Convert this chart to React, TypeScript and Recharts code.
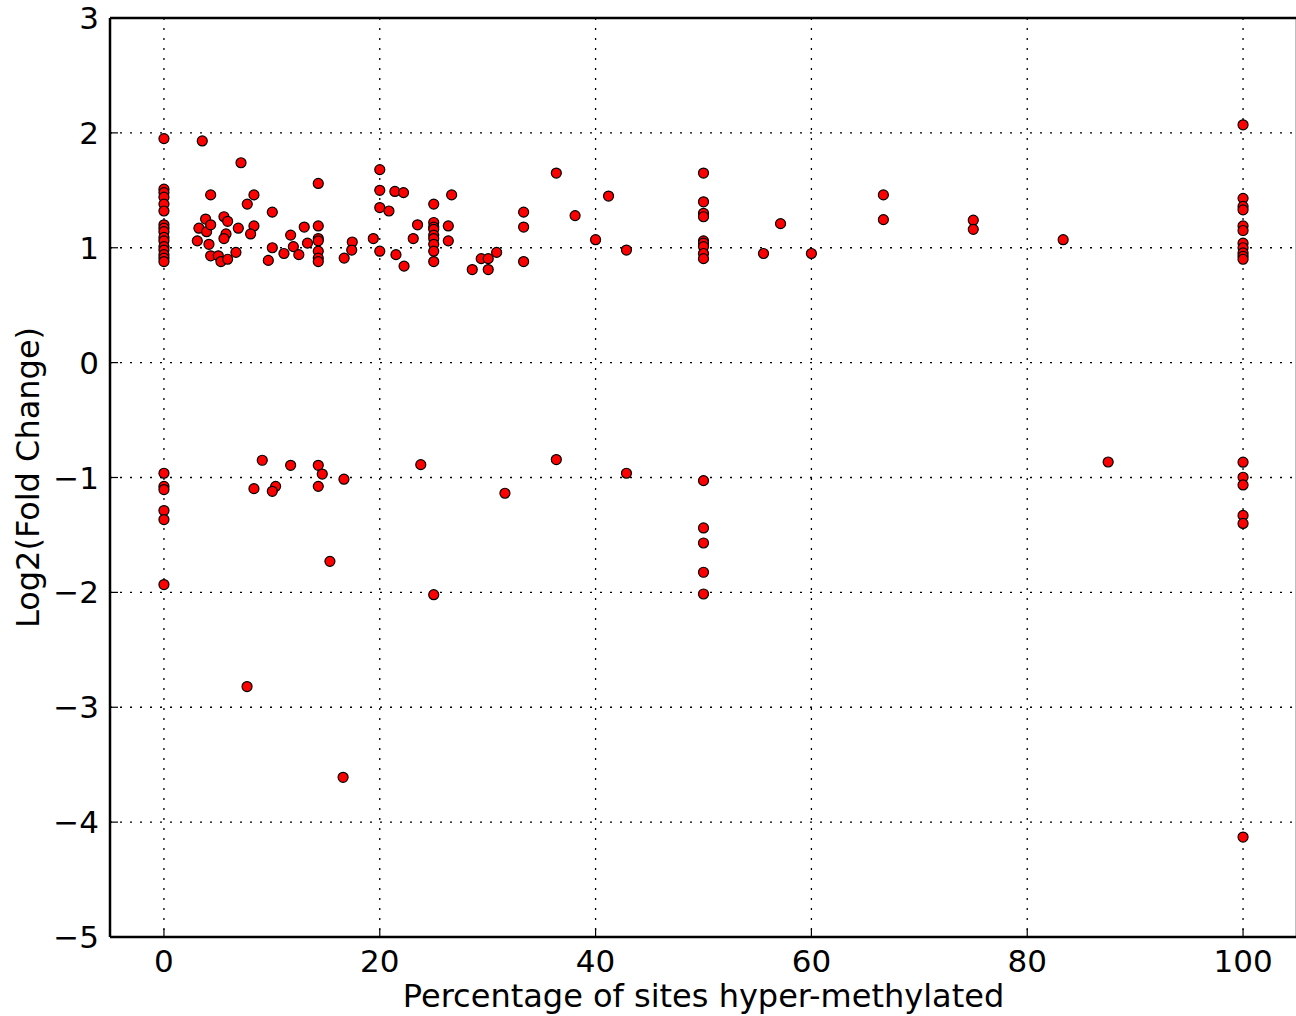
import React from 'react';
import {
  ScatterChart,
  Scatter,
  XAxis,
  YAxis,
  CartesianGrid,
} from 'recharts';

// up-regulated genes: % of sites hyper-methylated vs log2 fold change
const upPct = [
  0, 0, 0, 0, 0, 0, 0, 0, 0, 0, 0, 0, 0, 0, 0, 0,
  3.55, 7.14, 4.33, 8.34, 7.72, 10.04, 14.3, 3.86, 3.24, 3.95, 4.33, 3.09, 4.17, 5.56, 5.9, 5.75,
  5.56, 6.89, 8.34, 8.03, 4.33, 5.04, 5.28, 5.9, 6.67, 9.67, 10.04, 11.12, 11.74, 11.99, 12.5, 13.0, 13.3,
  14.3, 14.3, 14.3, 14.3, 14.3, 14.3,
  16.7, 17.45, 17.4,
  20, 20, 20, 20, 21.4, 22.2, 20.85, 19.4, 21.5, 22.25, 23.5, 23.1,
  25, 25, 25, 25, 25, 25, 25, 25, 25,
  26.35, 26.35, 26.66, 28.57, 29.4, 30.05, 30.05, 30.83,
  33.33, 33.33, 33.33, 36.36, 38.1, 40, 41.2, 42.86,
  50, 50, 50, 50, 50, 50, 50, 50, 50,
  55.56, 57.14, 60, 66.67, 66.67, 75, 75, 83.33,
  100, 100, 100, 100, 100, 100, 100, 100, 100, 100, 100,
];
const upFC = [
  1.95, 1.51, 1.48, 1.44, 1.38, 1.32, 1.2, 1.17, 1.14, 1.09, 1.06, 1.01, 0.98, 0.94, 0.91, 0.88,
  1.93, 1.74, 1.46, 1.46, 1.38, 1.31, 1.56, 1.25, 1.17, 1.14, 1.2, 1.06, 1.03, 1.27, 1.23, 1.12,
  1.08, 1.17, 1.19, 1.12, 0.93, 0.93, 0.88, 0.9, 0.96, 0.89, 1.0, 0.95, 1.11, 1.01, 0.94, 1.18, 1.04,
  1.19, 1.08, 1.06, 0.97, 0.91, 0.88,
  0.91, 1.05, 0.98,
  1.68, 1.5, 1.35, 0.97, 1.49, 1.48, 1.32, 1.08, 0.94, 0.84, 1.2, 1.08,
  1.38, 1.22, 1.18, 1.16, 1.11, 1.08, 1.03, 0.97, 0.88,
  1.19, 1.06, 1.46, 0.81, 0.905, 0.905, 0.81, 0.96,
  1.31, 1.18, 0.88, 1.65, 1.28, 1.07, 1.45, 0.98,
  1.65, 1.4, 1.3, 1.27, 1.06, 1.04, 1.01, 0.95, 0.905,
  0.95, 1.21, 0.95, 1.46, 1.245, 1.24, 1.16, 1.07,
  2.07, 1.43, 1.36, 1.33, 1.19, 1.15, 1.04, 1.0, 0.955, 0.925, 0.9,
];

// down-regulated genes
const downPct = [
  0, 0, 0, 0, 0, 0,
  9.11, 8.34, 10.35, 10.04, 11.74, 14.3, 14.67, 14.3, 16.68, 15.38,
  7.7, 16.6,
  23.8, 25, 31.6, 36.36, 42.86,
  50, 50, 50, 50, 50,
  87.5,
  100, 100, 100, 100, 100, 100,
];
const downFC = [
  -0.963, -1.077, -1.105, -1.288, -1.366, -1.932,
  -0.85, -1.097, -1.077, -1.12, -0.894, -0.894, -0.97, -1.077, -1.015, -1.73,
  -2.82, -3.61,
  -0.888, -2.02, -1.137, -0.844, -0.963,
  -1.027, -1.439, -1.57, -1.825, -2.014,
  -0.865,
  -0.867, -0.998, -1.065, -1.33, -1.4, -4.13,
];

const xTicks = [0, 20, 40, 60, 80, 100];
const yTicks = [-5, -4, -3, -2, -1, 0, 1, 2, 3];

const points = [
  ...upPct.map((x, i) => ({ x, y: upFC[i] })),
  ...downPct.map((x, i) => ({ x, y: downFC[i] })),
];

const FONT = '"DejaVu Sans", sans-serif';
const tickStyle = { fill: '#000', fontSize: 31, fontFamily: FONT };
const labelStyle = { fill: '#000', fontSize: 32, fontFamily: FONT };

const Dot = (props: any) => {
  const { cx, cy } = props;
  if (cx == null || cy == null) return null;
  return <circle cx={cx} cy={cy} r={5} fill="#ff0000" stroke="#000" strokeWidth={1.2} />;
};

export default function App() {
  return (
    <div style={{ position: 'absolute', left: 0, top: 0, width: 1296, height: 1016, overflow: 'hidden', background: '#fff' }}>
      <ScatterChart width={1310} height={1016} margin={{ top: 17, right: 12, bottom: 0, left: 0 }}>
        <CartesianGrid stroke="#000" strokeWidth={1.3} strokeDasharray="2 8" />
        <XAxis
          type="number"
          dataKey="x"
          domain={[-5, 105]}
          ticks={xTicks}
          height={79}
          tick={tickStyle}
          tickSize={-8}
          tickMargin={21}
          axisLine={{ stroke: '#000', strokeWidth: 2.5 }}
          tickLine={{ stroke: '#000', strokeWidth: 1.2 }}
          label={{ value: 'Percentage of sites hyper-methylated', position: 'insideBottom', offset: 9, style: labelStyle }}
        />
        <XAxis
          xAxisId="top"
          orientation="top"
          type="number"
          domain={[-5, 105]}
          ticks={xTicks}
          height={1}
          tick={false}
          tickSize={-8}
          axisLine={{ stroke: '#000', strokeWidth: 2.5 }}
          tickLine={{ stroke: '#000', strokeWidth: 1.2 }}
        />
        <YAxis
          type="number"
          dataKey="y"
          domain={[-5, 3]}
          ticks={yTicks}
          width={110}
          tick={tickStyle}
          tickSize={-8}
          tickMargin={19}
          axisLine={{ stroke: '#000', strokeWidth: 2.5 }}
          tickLine={{ stroke: '#000', strokeWidth: 1.2 }}
          tickFormatter={(v: number) => (v < 0 ? `\u2212${Math.abs(v)}` : `${v}`)}
          label={{ value: 'Log2(Fold Change)', angle: -90, position: 'insideLeft', offset: 28, style: { ...labelStyle, textAnchor: 'middle' } }}
        />
        <YAxis
          yAxisId="right"
          orientation="right"
          type="number"
          domain={[-5, 3]}
          ticks={yTicks}
          width={1}
          tick={false}
          tickSize={-8}
          axisLine={{ stroke: '#000', strokeWidth: 2.5 }}
          tickLine={{ stroke: '#000', strokeWidth: 1.2 }}
        />
        <Scatter data={points} shape={<Dot />} isAnimationActive={false} />
      </ScatterChart>
    </div>
  );
}
